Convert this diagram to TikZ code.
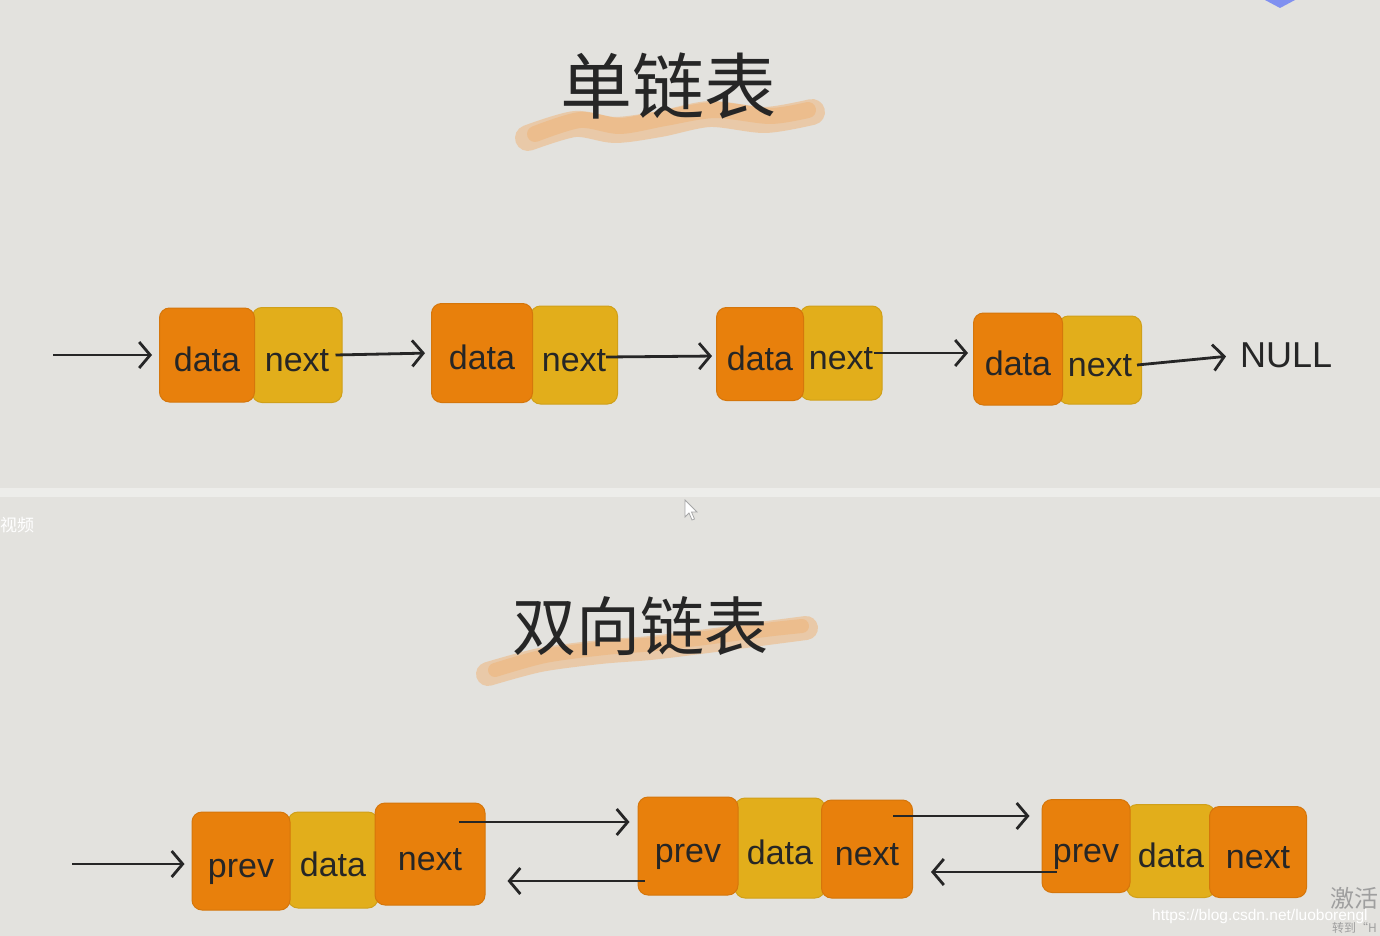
\documentclass[tikz,border=0pt]{standalone}
\usepackage{fontspec}
\usetikzlibrary{arrows.meta}
\newfontfamily\labfont{Liberation Sans}
\newfontfamily\cjkfont{Noto Sans CJK SC}
\definecolor{bg}{HTML}{E3E2DE}
\definecolor{band}{HTML}{EDEDEA}
\definecolor{orng}{HTML}{E8800C}
\definecolor{yel}{HTML}{E2AE1B}
\definecolor{ink}{HTML}{262626}
\definecolor{brush}{HTML}{EFB273}
\definecolor{purp}{HTML}{8090F0}
\tikzset{
  cell/.style={rounded corners=10pt, inner sep=0pt, text=ink, text height=32pt, text depth=0pt,
     font=\labfont\fontsize{34}{34}\selectfont},
  dcell/.style={cell, fill=orng, draw=orng!92!black, line width=1pt},
  ycell/.style={cell, fill=yel, draw=yel!92!black, line width=1pt},
  arr/.style={draw=ink, line width=2.8pt, -{Straight Barb[length=11pt,width=26pt,line width=2.8pt]}},
  title/.style={text=ink, inner sep=0pt},
  stroke/.style={draw=brush, opacity=0.5, line width=#1, line cap=round, line join=round},
  stroke/.default=24pt
}
\begin{document}
\begin{tikzpicture}[x=1pt,y=-1pt]
\useasboundingbox (0,0) rectangle (1380,936);
\fill[bg] (0,0) rectangle (1380,936);
\fill[band] (0,488) rectangle (1380,497);
% decorations of the screen capture
\fill[purp] (1265,0) -- (1295,0) -- (1280,8) -- cycle;
\draw[gray!70, fill=white, line width=0.8pt] (685,500) -- (685,517) -- (689,513) -- (692,520) -- (694.5,519) -- (691.5,512) -- (697,512) -- cycle;
\node[anchor=west, inner sep=0pt, text=white, font=\cjkfont\fontsize{17}{17}\selectfont] (sp) at (0,525) {视频};

% brush strokes
\draw[stroke=26pt] plot[smooth] coordinates {(528,138) (575,124) (615,130) (660,124) (710,114) (765,120) (812,112)};
\draw[stroke=16pt] plot[smooth] coordinates {(535,134) (580,120) (620,126) (665,118) (715,110) (770,116) (808,110)};
\draw[stroke=24pt] plot[smooth] coordinates {(488,674) (540,660) (600,652) (650,648) (700,642) (760,634) (806,628)};
\draw[stroke=14pt] plot[smooth] coordinates {(495,670) (545,656) (605,648) (655,644) (705,638) (765,630) (802,626)};

% titles
\node[title, font=\cjkfont\fontsize{72}{72}\selectfont] (t1) at (668,86) {单链表};
\node[title, font=\cjkfont\fontsize{64}{64}\selectfont] (t2) at (640,626) {双向链表};

% single linked list
\node[ycell, minimum width=90pt, minimum height=95pt] (n1) at (297,355) {};
\node[dcell, minimum width=95pt, minimum height=94pt] (d1) at (207,355) {data};
\node[cell] at (n1) {next};
\node[ycell, minimum width=87pt, minimum height=98pt] (n2) at (574,355) {};
\node[dcell, minimum width=101pt, minimum height=99pt] (d2) at (482,353) {data};
\node[cell] at (n2) {next};
\node[ycell, minimum width=82pt, minimum height=94pt] (n3) at (841,353) {};
\node[dcell, minimum width=87pt, minimum height=93pt] (d3) at (760,354) {data};
\node[cell] at (n3) {next};
\node[ycell, minimum width=83pt, minimum height=88pt] (n4) at (1100,360) {};
\node[dcell, minimum width=89pt, minimum height=92pt] (d4) at (1018,359) {data};
\node[cell] at (n4) {next};
\node[anchor=west, inner sep=0pt, text=ink, font=\labfont\fontsize{36}{36}\selectfont] (null) at (1240,355) {NULL};

\coordinate (s0) at (53,355);
\draw[arr, shorten >=7pt] (s0) -- (d1.west);
\draw[arr, shorten >=6pt] ([xshift=-7pt]n1.east) -- (d2.west);
\draw[arr, shorten >=4pt] ([xshift=-12pt,yshift=-2pt]n2.east) -- ([yshift=-2pt]d3.west);
\draw[arr, shorten >=5pt] ([xshift=-9pt]n3.east) -- ([yshift=6pt]d4.west);
\draw[arr, shorten >=14pt] ([xshift=-5pt,yshift=-5pt]n4.east) -- (null.west);

% doubly linked list
\node[ycell, minimum width=90pt, minimum height=96pt] (dA) at (333,860) {data};
\node[dcell, minimum width=98pt, minimum height=98pt] (pA) at (241,861) {prev};
\node[dcell, minimum width=110pt, minimum height=102pt] (nA) at (430,854) {next};
\node[ycell, minimum width=90pt, minimum height=100pt] (dB) at (780,848) {data};
\node[dcell, minimum width=100pt, minimum height=98pt] (pB) at (688,846) {prev};
\node[dcell, minimum width=91pt, minimum height=98pt] (nB) at (867,849) {next};
\node[ycell, minimum width=88pt, minimum height=93pt] (dC) at (1171,851) {data};
\node[dcell, minimum width=88pt, minimum height=93pt] (pC) at (1086,846) {prev};
\node[dcell, minimum width=97pt, minimum height=91pt] (nC) at (1258,852) {next};

\coordinate (s1) at (72,864);
\draw[arr, shorten >=7pt] (s1) -- (s1 -| pA.west);
\coordinate (f1) at ([xshift=-27pt,yshift=32pt]nA.east);
\draw[arr, shorten >=8pt] (f1) -- (f1 -| pB.west);
\coordinate (b1) at ([xshift=7pt,yshift=-35pt]pB.west);
\draw[arr, shorten >=22pt] (b1) -- (b1 -| nA.east);
\coordinate (f2) at ([xshift=-20pt,yshift=33pt]nB.east);
\draw[arr, shorten >=12pt] (f2) -- (f2 -| pC.west);
\coordinate (b2) at ([xshift=15pt,yshift=-26pt]pC.west);
\draw[arr, shorten >=18pt] (b2) -- (b2 -| nB.east);

% watermark texts
\node[anchor=west, inner sep=0pt, text=gray!75, font=\cjkfont\fontsize{24}{24}\selectfont] (jh) at (1330,898) {激活};
\node[anchor=west, inner sep=0pt, text=gray!75, font=\cjkfont\fontsize{12}{12}\selectfont] (zd) at (1332,928) {转到“H};
\node[anchor=west, inner sep=0pt, text=white, font=\labfont\fontsize{15.5}{15.5}\selectfont] (url) at (1152,916) {https://blog.csdn.net/luoborengl};
\end{tikzpicture}
\end{document}
